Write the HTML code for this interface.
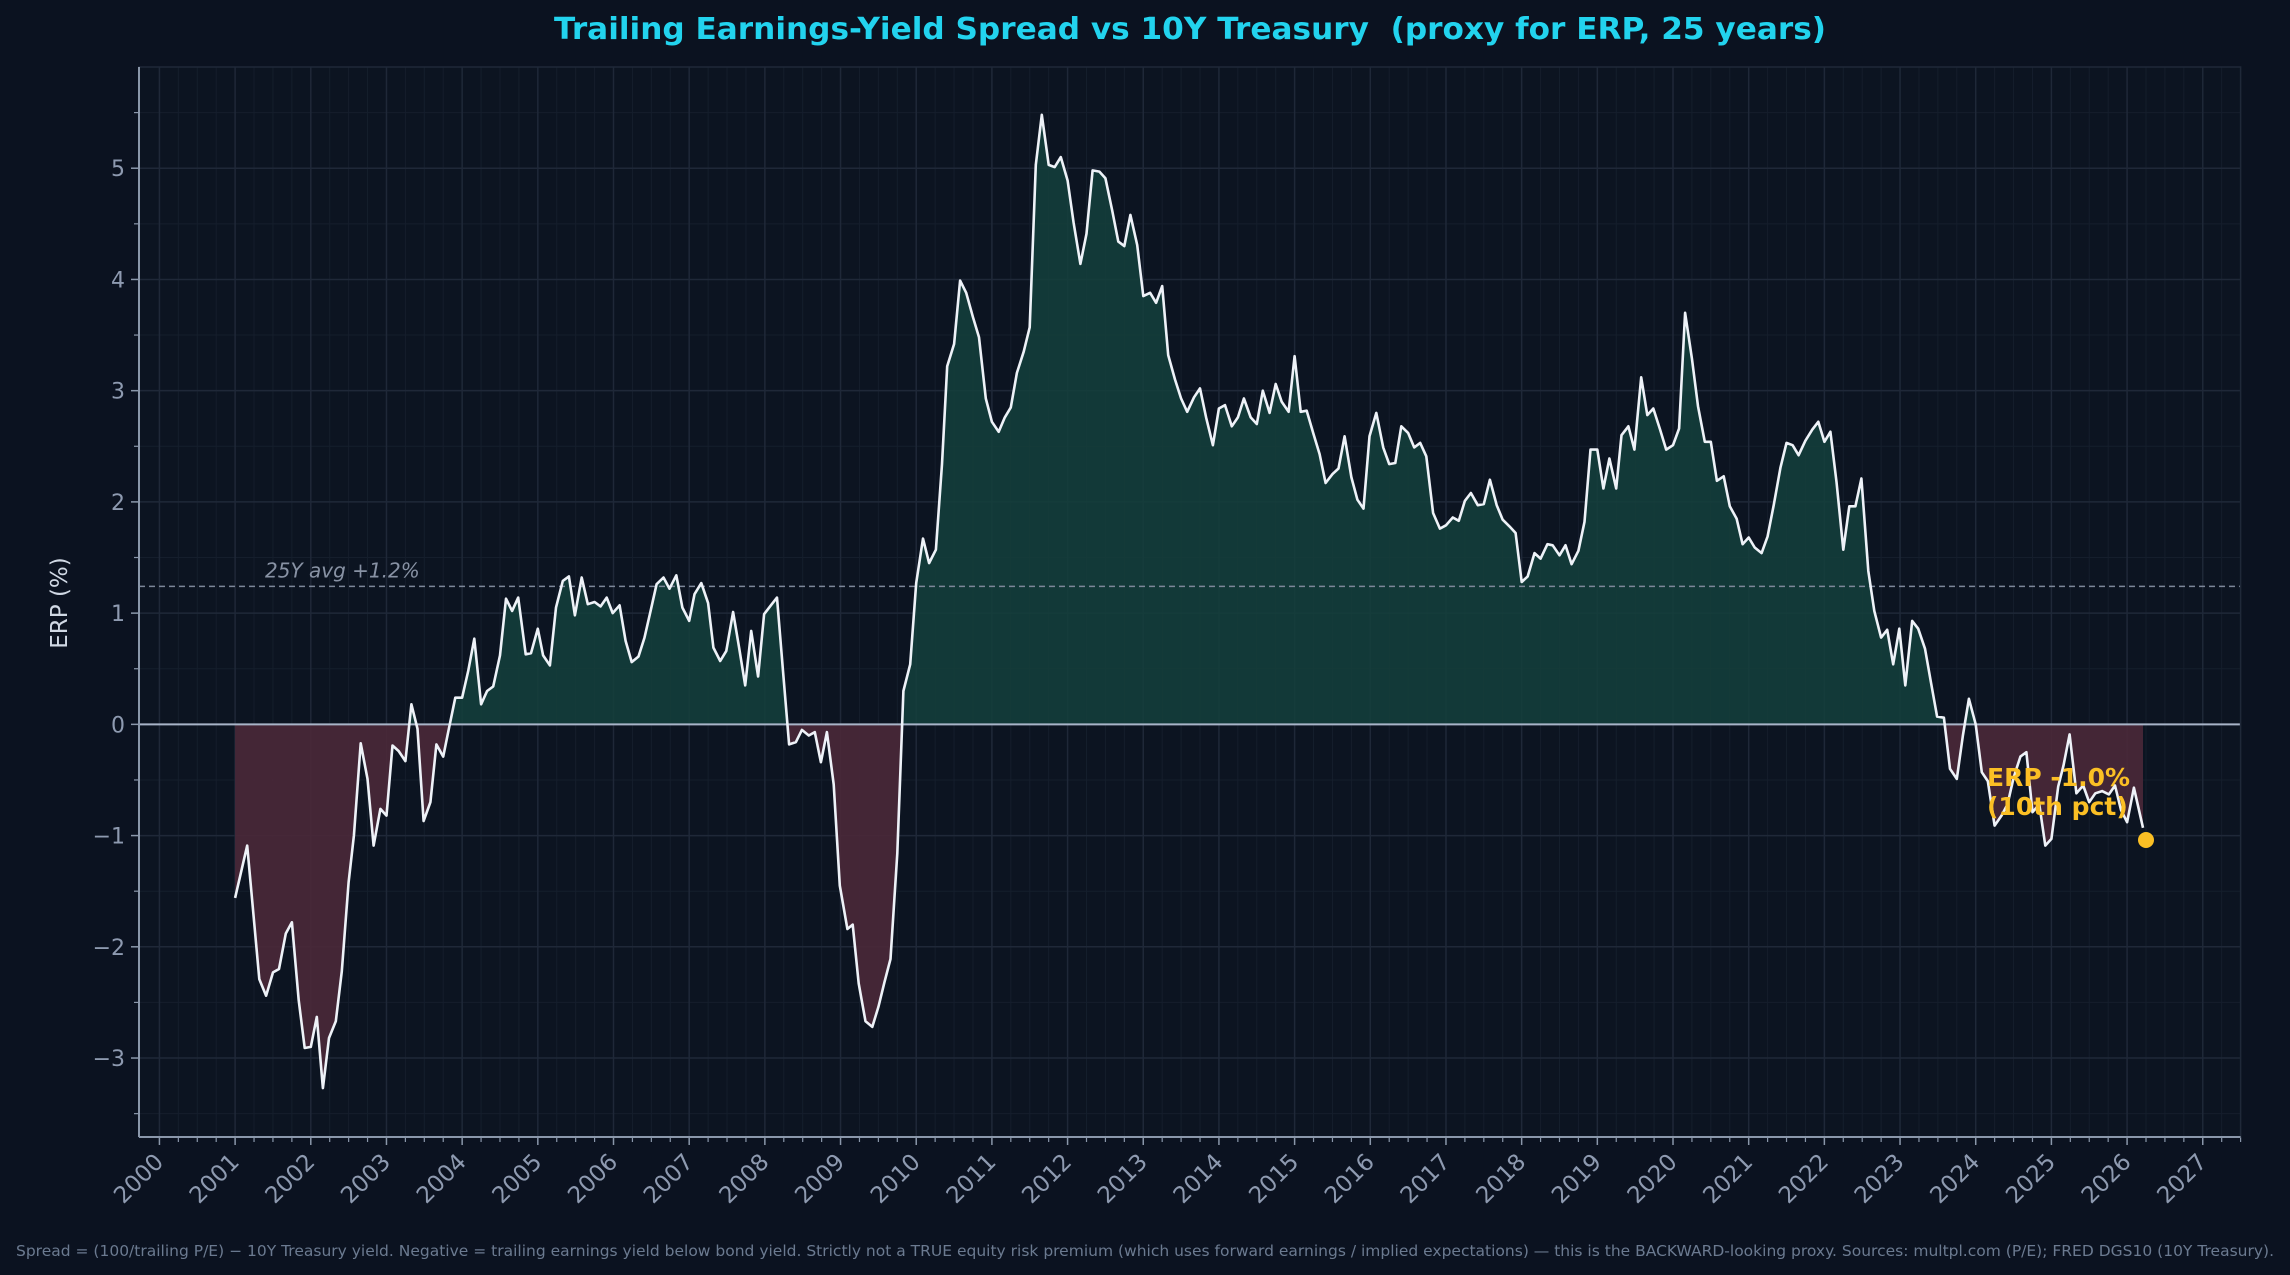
<!DOCTYPE html>
<html><head><meta charset="utf-8">
<style>
html,body{margin:0;padding:0;background:#0b1220;}
svg{display:block;font-family:"DejaVu Sans","Liberation Sans",sans-serif;}
</style></head>
<body>
<svg id="chart" width="2290" height="1275" viewBox="0 0 2290 1275" xmlns="http://www.w3.org/2000/svg">
<rect x="0" y="0" width="2290" height="1275" fill="#0b1220"/>
<rect x="139" y="67" width="2101" height="1070" fill="#0c1421"/>
<g id="grid"></g>
<g id="fills"></g>
<g id="lines"></g>
<g id="axes"></g>
<text x="554" y="39" font-size="30" font-weight="bold" fill="#22d3ee" textLength="1272" lengthAdjust="spacingAndGlyphs" style="white-space:pre" xml:space="preserve">Trailing Earnings-Yield Spread vs 10Y Treasury  (proxy for ERP, 25 years)</text>
<text transform="translate(67,603) rotate(-90)" text-anchor="middle" font-size="23" fill="#d0d8e4">ERP (%)</text>
<text x="16" y="1256" font-size="15" fill="#6b7a90" textLength="2258" lengthAdjust="spacingAndGlyphs">Spread = (100/trailing P/E) − 10Y Treasury yield. Negative = trailing earnings yield below bond yield. Strictly not a TRUE equity risk premium (which uses forward earnings / implied expectations) — this is the BACKWARD-looking proxy. Sources: multpl.com (P/E); FRED DGS10 (10Y Treasury).</text>
</svg>
<script>
const dates = [2001.0,2001.16,2001.32,2001.41,2001.5,2001.58,2001.67,2001.75,2001.84,2001.92,2002.0,2002.08,2002.16,2002.24,2002.33,2002.41,2002.5,2002.57,2002.66,2002.75,2002.83,2002.92,2003.0,2003.08,2003.16,2003.25,2003.33,2003.41,2003.49,2003.58,2003.66,2003.75,2003.83,2003.91,2004.0,2004.08,2004.16,2004.25,2004.33,2004.41,2004.5,2004.58,2004.66,2004.74,2004.84,2004.91,2005.0,2005.07,2005.16,2005.24,2005.33,2005.41,2005.49,2005.58,2005.66,2005.75,2005.83,2005.91,2005.99,2006.08,2006.16,2006.24,2006.33,2006.41,2006.49,2006.57,2006.66,2006.74,2006.83,2006.91,2007.0,2007.07,2007.16,2007.25,2007.32,2007.41,2007.49,2007.58,2007.66,2007.74,2007.82,2007.91,2007.99,2008.08,2008.16,2008.24,2008.32,2008.41,2008.49,2008.58,2008.66,2008.74,2008.82,2008.91,2008.99,2009.09,2009.16,2009.24,2009.33,2009.42,2009.5,2009.58,2009.66,2009.75,2009.83,2009.92,2010.0,2010.09,2010.17,2010.26,2010.34,2010.41,2010.5,2010.58,2010.66,2010.75,2010.83,2010.92,2011.0,2011.09,2011.17,2011.25,2011.33,2011.42,2011.5,2011.58,2011.66,2011.75,2011.83,2011.91,2012.0,2012.08,2012.17,2012.25,2012.33,2012.42,2012.5,2012.59,2012.67,2012.75,2012.83,2012.92,2013.0,2013.09,2013.17,2013.25,2013.33,2013.42,2013.5,2013.58,2013.67,2013.75,2013.83,2013.92,2014.0,2014.08,2014.17,2014.25,2014.33,2014.42,2014.5,2014.58,2014.67,2014.75,2014.83,2014.92,2015.0,2015.08,2015.16,2015.25,2015.33,2015.41,2015.5,2015.58,2015.66,2015.75,2015.83,2015.91,2015.99,2016.08,2016.17,2016.25,2016.33,2016.41,2016.5,2016.58,2016.66,2016.74,2016.83,2016.92,2017.0,2017.09,2017.17,2017.25,2017.33,2017.42,2017.5,2017.58,2017.67,2017.75,2017.84,2017.92,2018.0,2018.08,2018.17,2018.25,2018.34,2018.41,2018.5,2018.58,2018.66,2018.75,2018.83,2018.91,2019.0,2019.08,2019.16,2019.25,2019.32,2019.41,2019.49,2019.58,2019.66,2019.74,2019.83,2019.91,2020.0,2020.08,2020.16,2020.25,2020.33,2020.42,2020.5,2020.58,2020.67,2020.75,2020.84,2020.92,2021.0,2021.08,2021.17,2021.25,2021.33,2021.42,2021.5,2021.58,2021.66,2021.75,2021.84,2021.92,2022.0,2022.08,2022.16,2022.25,2022.33,2022.41,2022.49,2022.58,2022.66,2022.75,2022.83,2022.91,2022.99,2023.07,2023.16,2023.24,2023.33,2023.41,2023.49,2023.58,2023.66,2023.75,2023.83,2023.91,2024.0,2024.08,2024.16,2024.25,2024.34,2024.42,2024.5,2024.59,2024.67,2024.75,2024.84,2024.92,2025.0,2025.09,2025.16,2025.24,2025.33,2025.42,2025.5,2025.58,2025.67,2025.76,2025.84,2025.92,2026.0,2026.09,2026.21];
const values = [-1.56,-1.09,-2.29,-2.44,-2.23,-2.2,-1.88,-1.78,-2.48,-2.91,-2.9,-2.63,-3.27,-2.82,-2.67,-2.22,-1.42,-1.0,-0.17,-0.49,-1.09,-0.76,-0.82,-0.19,-0.24,-0.33,0.18,-0.04,-0.87,-0.7,-0.18,-0.29,-0.02,0.24,0.24,0.48,0.77,0.18,0.3,0.34,0.62,1.13,1.02,1.14,0.63,0.64,0.86,0.62,0.53,1.05,1.29,1.33,0.98,1.32,1.08,1.1,1.06,1.14,1.0,1.07,0.75,0.56,0.61,0.78,1.02,1.26,1.32,1.22,1.34,1.05,0.93,1.17,1.27,1.09,0.69,0.57,0.66,1.01,0.69,0.35,0.84,0.43,0.99,1.07,1.14,0.48,-0.18,-0.16,-0.05,-0.1,-0.07,-0.34,-0.07,-0.54,-1.45,-1.84,-1.8,-2.33,-2.67,-2.72,-2.54,-2.32,-2.11,-1.16,0.3,0.54,1.27,1.67,1.45,1.57,2.34,3.22,3.42,3.99,3.88,3.66,3.48,2.93,2.72,2.63,2.76,2.85,3.16,3.35,3.57,5.03,5.48,5.03,5.01,5.1,4.89,4.51,4.14,4.41,4.98,4.97,4.91,4.62,4.34,4.3,4.58,4.31,3.85,3.88,3.79,3.94,3.32,3.1,2.93,2.81,2.94,3.02,2.76,2.51,2.84,2.87,2.68,2.76,2.93,2.76,2.7,3.0,2.8,3.06,2.9,2.81,3.31,2.81,2.82,2.61,2.43,2.17,2.25,2.3,2.59,2.22,2.02,1.94,2.59,2.8,2.49,2.34,2.35,2.68,2.62,2.49,2.53,2.41,1.9,1.76,1.79,1.86,1.83,2.01,2.08,1.97,1.98,2.2,1.97,1.84,1.78,1.72,1.28,1.33,1.54,1.49,1.62,1.61,1.52,1.61,1.44,1.56,1.82,2.47,2.47,2.12,2.39,2.12,2.6,2.68,2.47,3.12,2.78,2.84,2.65,2.47,2.51,2.66,3.7,3.29,2.86,2.54,2.54,2.19,2.23,1.96,1.85,1.62,1.68,1.59,1.54,1.69,1.97,2.31,2.53,2.51,2.42,2.55,2.65,2.72,2.54,2.63,2.18,1.57,1.96,1.96,2.21,1.38,1.02,0.78,0.85,0.54,0.86,0.35,0.93,0.86,0.68,0.37,0.07,0.06,-0.4,-0.49,-0.1,0.23,0.0,-0.43,-0.51,-0.91,-0.82,-0.72,-0.48,-0.29,-0.25,-0.79,-0.72,-1.09,-1.03,-0.56,-0.37,-0.09,-0.62,-0.55,-0.7,-0.62,-0.6,-0.63,-0.55,-0.77,-0.88,-0.57,-0.93];
const yTicks = [-3,-2,-1,0,1,2,3,4,5];
const xTickYears = [2000,2001,2002,2003,2004,2005,2006,2007,2008,2009,2010,2011,2012,2013,2014,2015,2016,2017,2018,2019,2020,2021,2022,2023,2024,2025,2026,2027];
const avgValue = [1.24];
const latestPoint = [2026.25, -1.04];

const NS = "http://www.w3.org/2000/svg";
const L = 139, R = 2240.6, T = 67, B = 1137;
const X0 = 1999.73, X1 = 2027.5, Y0 = -3.71, Y1 = 5.91;
function xs(v){ return L + (v - X0) / (X1 - X0) * (R - L); }
function ys(v){ return B - (v - Y0) / (Y1 - Y0) * (B - T); }
function mk(tag, attrs, parent){
  const e = document.createElementNS(NS, tag);
  for (const k in attrs) e.setAttribute(k, attrs[k]);
  parent.appendChild(e); return e;
}
const grid = document.getElementById('grid');
const axes = document.getElementById('axes');
const fills = document.getElementById('fills');
const lines = document.getElementById('lines');

for (let yr = 2000; yr <= 2027.5; yr += 0.25) {
  if (Math.abs(yr - Math.round(yr)) < 1e-6) continue;
  const x = xs(yr);
  const g = mk('line', {x1:x, x2:x, y1:T, y2:B, stroke:'#151e2c', 'stroke-width':1}, grid);
  
  
  const t = mk('line', {x1:x, x2:x, y1:B, y2:B+5, stroke:'#8a97aa', 'stroke-width':1.2}, axes);
  
  
}
for (let v = -3.5; v <= 5.5; v += 1) {
  const y = ys(v);
  const g = mk('line', {x1:L, x2:R, y1:y, y2:y, stroke:'#151e2c', 'stroke-width':1}, grid);
  
  
  const t = mk('line', {x1:L-5, x2:L, y1:y, y2:y, stroke:'#8a97aa', 'stroke-width':1.2}, axes);
  
  
}
xTickYears.forEach(yr => {
  const x = xs(yr);
  const g = mk('line', {x1:x, x2:x, y1:T, y2:B, stroke:'#1f2838', 'stroke-width':1.5}, grid);
  
  
  const t = mk('line', {x1:x, x2:x, y1:B, y2:B+8, stroke:'#8a97aa', 'stroke-width':1.5}, axes);
  
  
  const lb = mk('text', {transform:'translate(' + (x-6) + ',' + (B+15) + ') rotate(-45)', 'text-anchor':'end', 'dominant-baseline':'hanging', 'font-size':23, fill:'#8e9ab0'}, axes);
  lb.textContent = String(yr);
  
  
});
yTicks.forEach(v => {
  const y = ys(v);
  const g = mk('line', {x1:L, x2:R, y1:y, y2:y, stroke:'#1f2838', 'stroke-width':1.5}, grid);
  
  
  const t = mk('line', {x1:L-8, x2:L, y1:y, y2:y, stroke:'#8a97aa', 'stroke-width':1.5}, axes);
  
  
  const lb = mk('text', {x:L-14, y:y+8, 'text-anchor':'end', 'font-size':22, fill:'#8e9ab0'}, axes);
  lb.textContent = v < 0 ? '\u2212' + Math.abs(v) : String(v);
  
  
});
const sp1 = mk('rect', {x:L, y:T, width:R-L, height:B-T, fill:'none', stroke:'#1f2838', 'stroke-width':1.5}, axes);


const spL = mk('line', {x1:L, x2:L, y1:T, y2:B, stroke:'#8a97aa', 'stroke-width':2}, axes);


const spB = mk('line', {x1:L, x2:R, y1:B, y2:B, stroke:'#8a97aa', 'stroke-width':2}, axes);



const zy = ys(0);
let pts = dates.map((d,i) => xs(d).toFixed(1) + ',' + ys(values[i]).toFixed(1));
const areaD = 'M' + xs(dates[0]).toFixed(1) + ',' + zy + ' L' + pts.join(' L') + ' L' + xs(dates[dates.length-1]).toFixed(1) + ',' + zy + ' Z';
const defs = mk('defs', {}, document.getElementById('chart'));
const cpA = mk('clipPath', {id:'above'}, defs);
mk('rect', {x:L, y:T, width:R-L, height:zy-T}, cpA);
const cpB = mk('clipPath', {id:'below'}, defs);
mk('rect', {x:L, y:zy, width:R-L, height:B-zy}, cpB);
const fa = mk('path', {d:areaD, fill:'#14403c', 'fill-opacity':0.85, 'clip-path':'url(#above)'}, fills);


const fb = mk('path', {d:areaD, fill:'#4a2838', 'fill-opacity':0.9, 'clip-path':'url(#below)'}, fills);



const ay = ys(avgValue[0]);
const al = mk('line', {x1:L, x2:R, y1:ay, y2:ay, stroke:'#7d8799', 'stroke-width':1.5, 'stroke-dasharray':'6,4'}, lines);


const at = mk('text', {x:265, y:ay-9, 'font-size':20, 'font-style':'italic', fill:'#8892a4'}, lines);
at.textContent = '25Y avg +' + avgValue[0].toFixed(1) + '%';


const zl = mk('line', {x1:L, x2:R, y1:zy, y2:zy, stroke:'#a8b4c8', 'stroke-width':2}, lines);


const sl = mk('polyline', {points:pts.join(' '), fill:'none', stroke:'#eef2f8', 'stroke-width':2.6, 'stroke-linejoin':'round'}, lines);


const dot = mk('circle', {cx:xs(latestPoint[0]), cy:ys(latestPoint[1]), r:8, fill:'#fbbf24'}, lines);


const an1 = mk('text', {x:1987, y:786, 'font-size':25, 'font-weight':'bold', fill:'#fbbf24'}, lines);
an1.textContent = 'ERP -1.0%';


const an2 = mk('text', {x:1987, y:815, 'font-size':25, 'font-weight':'bold', fill:'#fbbf24'}, lines);
an2.textContent = '(10th pct)';


</script>
</body></html>
